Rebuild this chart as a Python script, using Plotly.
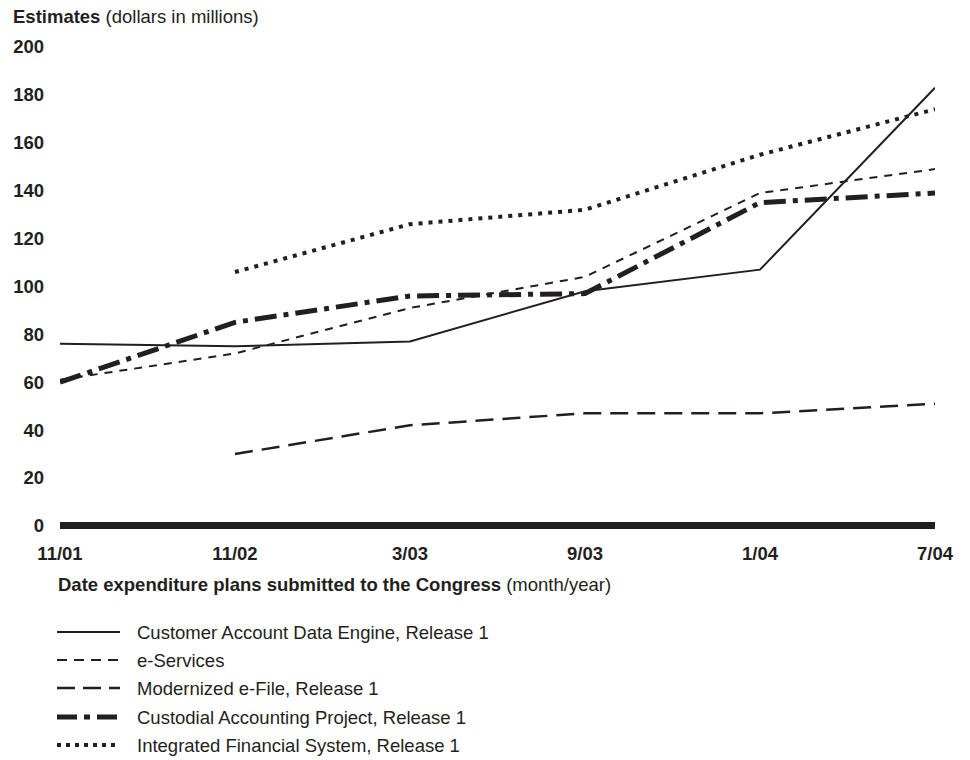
import plotly.graph_objects as go

dates = ["11/01", "11/02", "3/03", "9/03", "1/04", "7/04"]

cade = [76, 75, 77, 98, 107, 183]
e_services = [61, 72, 91, 104, 139, 149]
mef = [None, 30, 42, 47, 47, 51]
custodial = [60, 85, 96, 97, 135, 139]
ifs = [None, 106, 126, 132, 155, 174]

names = [
    "Customer Account Data Engine, Release 1",
    "e-Services",
    "Modernized e-File, Release 1",
    "Custodial Accounting Project, Release 1",
    "Integrated Financial System, Release 1",
]
series = [cade, e_services, mef, custodial, ifs]
styles = [
    dict(width=2, dash="solid"),
    dict(width=2, dash="8px,7px"),
    dict(width=2.5, dash="18px,9px"),
    dict(width=5, dash="22px,7px,5px,7px"),
    dict(width=4, dash="4px,6px"),
]
legend_dash = ["solid", "10px,7px", "18px,8px", "20px,7px,6px,7px", "4px,5px"]

INK = "#231f20"
FONT = "Liberation Sans, Arial, sans-serif"
FS = 18.5

fig = go.Figure()
for name, vals, st in zip(names, series, styles):
    fig.add_trace(go.Scatter(
        x=dates, y=vals, mode="lines", name=name,
        line=dict(color=INK, width=st["width"], dash=st["dash"]),
        connectgaps=False, showlegend=False,
    ))

fig.update_layout(
    width=970, height=760,
    margin=dict(l=60, r=35, t=47, b=227),
    paper_bgcolor="white", plot_bgcolor="white",
    font=dict(family=FONT, color=INK),
    showlegend=False,
)
fig.update_xaxes(
    type="category", range=[0, 5], showgrid=False, zeroline=False,
    showline=False, ticks="",
    tickfont=dict(size=FS, family=FONT, color=INK, weight="bold"),
    ticklabelstandoff=7,
)
fig.update_yaxes(
    range=[-3, 200], tickvals=list(range(0, 201, 20)),
    showgrid=False, zeroline=True, zerolinewidth=7, zerolinecolor=INK,
    showline=False, ticks="",
    tickfont=dict(size=FS, family=FONT, color=INK, weight="bold"),
    ticklabelstandoff=15,
)

plot_left, plot_w = 60, 875
plot_bottom, plot_h = 533, 486
def px(x):
    return (x - plot_left) / plot_w
def py(y):
    return (plot_bottom - y) / plot_h

fig.add_annotation(
    xref="paper", yref="paper", x=px(12), y=py(16),
    xanchor="left", yanchor="middle", showarrow=False, borderpad=0,
    text="<b>Estimates</b> (dollars in millions)",
    font=dict(size=FS, family=FONT, color=INK),
)
fig.add_annotation(
    xref="paper", yref="paper", x=px(57), y=py(584),
    xanchor="left", yanchor="middle", showarrow=False, borderpad=0,
    text="<b>Date expenditure plans submitted to the Congress</b> (month/year)",
    font=dict(size=FS, family=FONT, color=INK),
)

rows = [632, 660, 688, 717, 745]
for name, st, ld, ry in zip(names, styles, legend_dash, rows):
    fig.add_shape(
        type="line", xref="paper", yref="paper",
        x0=px(57), x1=px(120), y0=py(ry), y1=py(ry),
        line=dict(color=INK, width=st["width"], dash=ld),
    )
    fig.add_annotation(
        xref="paper", yref="paper", x=px(136), y=py(ry),
        xanchor="left", yanchor="middle", showarrow=False, borderpad=0,
        text=name, font=dict(size=FS, family=FONT, color=INK),
    )

fig.write_html(
    "out.html",
    config={"displayModeBar": False},
    post_script="document.body.style.margin='0';document.body.style.overflow='hidden';",
)
